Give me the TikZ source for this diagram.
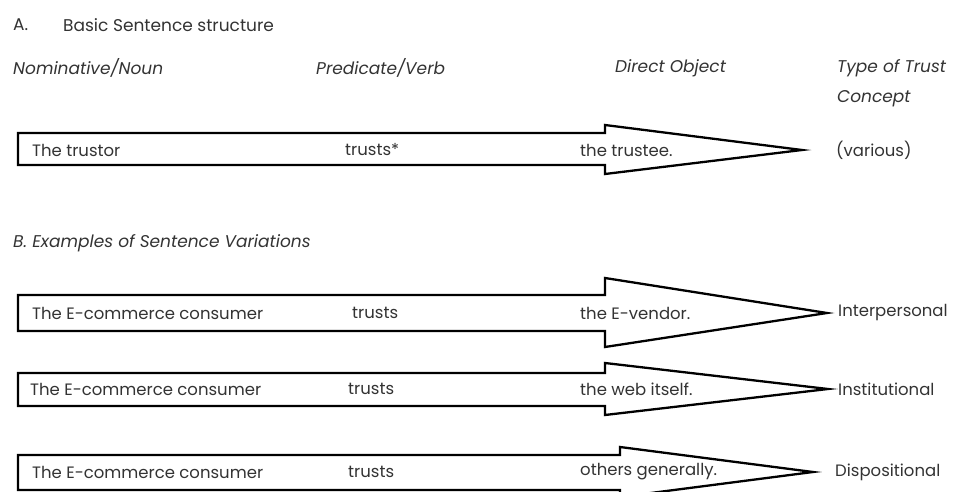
\documentclass[tikz,border=0pt]{standalone}
\usepackage{fontspec}
\setmainfont{Poppins}
\begin{document}
\begin{tikzpicture}[x=1pt,y=-1pt,
  lbl/.style={anchor=west,inner sep=0pt,text=black!80,font=\fontsize{16.5}{19}\selectfont},
  hdr/.style={lbl,font=\fontsize{17}{20}\selectfont\itshape},
  shaft/.style={draw=black,line width=2.3pt,line join=miter,fill=white}]
\useasboundingbox (0,0) rectangle (962,492);
\begin{scope}
\clip (0,0) rectangle (962,492);

% Section A heading and column headers
\node[lbl,font=\fontsize{17}{20}\selectfont] (secA) at (13,25) {A.};
\node[lbl,font=\fontsize{17}{20}\selectfont] (secAt) at (63,25) {Basic Sentence structure};
\node[hdr] (hNoun) at (13,68) {Nominative/Noun};
\node[hdr] (hVerb) at (316,68) {Predicate/Verb};
\node[hdr] (hObj) at (615,68) {Direct Object};
\node[hdr] (hType) at (837,68) {Type of Trust};
\node[hdr] (hType2) at (837,99) {Concept};

% Block arrows: shaft top/bottom, head top/bottom, notch x, tip x
\draw[shaft] (18,133) -- (605,133) -- (605,125) -- (802,150) -- (605,174) -- (605,165) -- (18,165) -- cycle;
\draw[shaft] (18,295) -- (605,295) -- (605,278) -- (827,313) -- (605,347) -- (605,331) -- (18,331) -- cycle;
\draw[shaft] (18,373) -- (605,373) -- (605,363) -- (828,389) -- (605,415) -- (605,406) -- (18,406) -- cycle;
\draw[shaft] (18,455) -- (620,455) -- (620,447) -- (813,472) -- (620,497) -- (620,490) -- (18,490) -- cycle;

% Row A
\node[lbl] (a1) at (32,150) {The trustor};
\node[lbl] (a2) at (345,150) {trusts*};
\node[lbl] (a3) at (580,150) {the trustee.};
\node[lbl] (a4) at (836,150) {(various)};

% Section B heading
\node[hdr] (secB) at (13,243) {B. Examples of Sentence Variations};

% Row B1
\node[lbl] (b1) at (32,313) {The E-commerce consumer};
\node[lbl] (b2) at (352,313) {trusts};
\node[lbl] (b3) at (580,313) {the E-vendor.};
\node[lbl] (b4) at (838,313) {Interpersonal};

% Row B2
\node[lbl] (c1) at (30,389) {The E-commerce consumer};
\node[lbl] (c2) at (348,389) {trusts};
\node[lbl] (c3) at (580,389) {the web itself.};
\node[lbl] (c4) at (838,389) {Institutional};

% Row B3
\node[lbl] (d1) at (32,472) {The E-commerce consumer};
\node[lbl] (d2) at (348,472) {trusts};
\node[lbl] (d3) at (580,472) {others generally.};
\node[lbl] (d4) at (835,472) {Dispositional};
\end{scope}
\end{tikzpicture}
\end{document}
